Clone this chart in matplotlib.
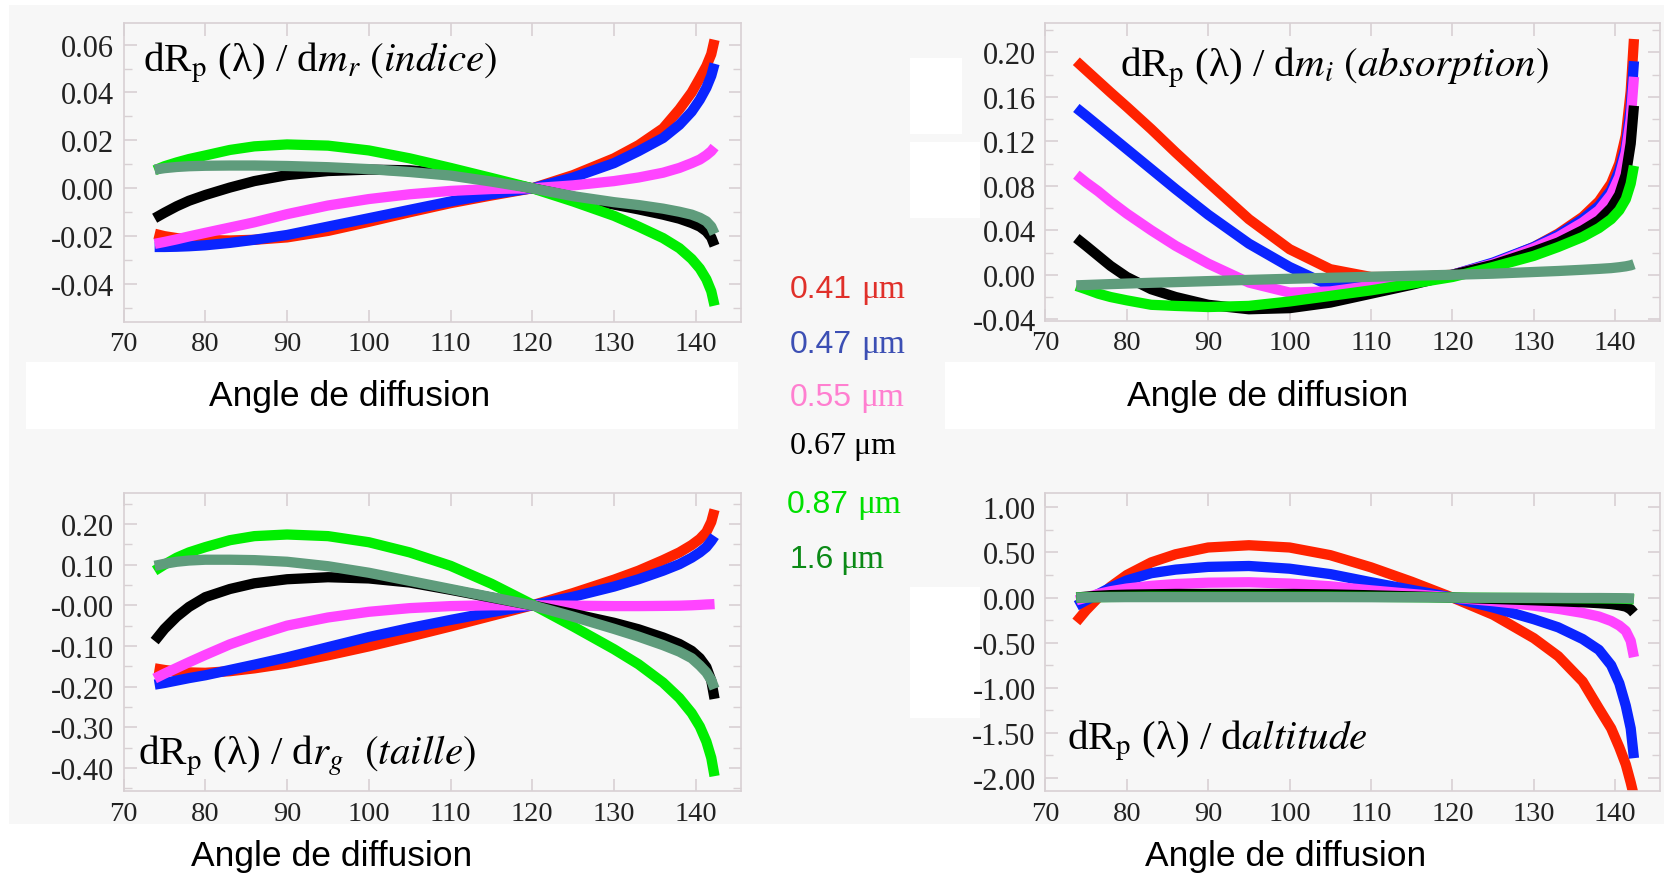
import matplotlib
matplotlib.use("Agg")
import matplotlib.pyplot as plt
from matplotlib.patches import Rectangle
from matplotlib.ticker import MultipleLocator

plt.rcParams['font.family'] = ['Liberation Serif', 'DejaVu Serif']
plt.rcParams['mathtext.fontset'] = 'stix'
plt.rcParams['axes.unicode_minus'] = False

# angle de diffusion (deg)
angle = [73.8, 75, 76.5, 78, 80, 83, 86, 90, 95, 100, 105, 110, 115, 120,
         125, 130, 133, 136, 138, 139.5, 140.5, 141.3, 141.9, 142.3]

# dRp / dm_r (indice)
mr_041 = [-0.019, -0.020, -0.0208, -0.0213, -0.0216, -0.0218, -0.0215, -0.0205, -0.0178, -0.014, -0.010, -0.0062, -0.003, 0.0,
          0.0055, 0.0125, 0.018, 0.025, 0.033, 0.040, 0.046, 0.051, 0.056, 0.062]
mr_047 = [-0.0245, -0.0245, -0.0244, -0.0242, -0.0238, -0.0228, -0.0215, -0.0195, -0.016, -0.0125, -0.009, -0.0055, -0.0025, 0.0,
          0.0045, 0.0105, 0.0155, 0.021, 0.0265, 0.032, 0.037, 0.042, 0.047, 0.052]
mr_055 = [-0.0232, -0.0224, -0.0213, -0.0201, -0.0186, -0.0164, -0.0142, -0.0108, -0.0072, -0.0045, -0.0025, -0.0011, -0.0003, 0.0,
          0.0012, 0.003, 0.0045, 0.0065, 0.0085, 0.0105, 0.012, 0.0138, 0.0155, 0.0172]
mr_067 = [-0.0125, -0.0102, -0.0075, -0.0052, -0.0028, 0.0003, 0.003, 0.0055, 0.0072, 0.0078, 0.0075, 0.006, 0.0035, 0.0,
          -0.0035, -0.0068, -0.0088, -0.011, -0.0127, -0.0145, -0.016, -0.018, -0.0205, -0.024]
mr_087 = [0.0075, 0.0092, 0.0108, 0.0122, 0.0137, 0.016, 0.0175, 0.0183, 0.0178, 0.0158, 0.0125, 0.0085, 0.0043, 0.0,
          -0.0055, -0.0115, -0.016, -0.0208, -0.025, -0.0295, -0.0335, -0.038, -0.043, -0.049]
mr_160 = [0.0078, 0.0084, 0.0089, 0.0092, 0.0094, 0.0095, 0.0095, 0.0093, 0.0088, 0.008, 0.0068, 0.0053, 0.0028, 0.0,
          -0.0033, -0.0058, -0.007, -0.0085, -0.0098, -0.011, -0.0123, -0.0138, -0.016, -0.019]

# dRp / dm_i (absorption)
mi_041 = [0.192, 0.184, 0.174, 0.164, 0.151, 0.131, 0.110, 0.083, 0.050, 0.023, 0.005, -0.002, -0.002, 0.0,
          0.010, 0.025, 0.037, 0.052, 0.066, 0.082, 0.100, 0.125, 0.165, 0.212]
mi_047 = [0.150, 0.143, 0.134, 0.125, 0.113, 0.095, 0.077, 0.054, 0.028, 0.007, -0.010, -0.010, -0.006, 0.0,
          0.011, 0.025, 0.036, 0.050, 0.062, 0.076, 0.094, 0.115, 0.150, 0.192]
mi_055 = [0.090, 0.083, 0.075, 0.066, 0.055, 0.040, 0.026, 0.010, -0.007, -0.016, -0.015, -0.010, -0.005, 0.0,
          0.010, 0.024, 0.034, 0.047, 0.058, 0.072, 0.088, 0.110, 0.140, 0.178]
mi_067 = [0.033, 0.026, 0.017, 0.008, -0.002, -0.013, -0.020, -0.027, -0.031, -0.030, -0.025, -0.017, -0.009, 0.0,
          0.009, 0.021, 0.029, 0.040, 0.049, 0.060, 0.072, 0.090, 0.118, 0.152]
mi_087 = [-0.010, -0.013, -0.017, -0.020, -0.023, -0.027, -0.028, -0.029, -0.028, -0.024, -0.019, -0.014, -0.008, -0.002,
          0.007, 0.017, 0.025, 0.034, 0.042, 0.050, 0.058, 0.068, 0.082, 0.098]
mi_160 = [-0.0095, -0.0092, -0.0088, -0.0084, -0.0079, -0.0072, -0.0066, -0.0057, -0.0046, -0.0036, -0.0027, -0.0018, -0.0009, 0.0,
          0.001, 0.0025, 0.0034, 0.0045, 0.0053, 0.006, 0.0068, 0.0076, 0.0085, 0.0095]

# dRp / dr_g (taille)
rg_041 = [-0.155, -0.159, -0.163, -0.165, -0.166, -0.162, -0.155, -0.143, -0.123, -0.101, -0.077, -0.052, -0.026, 0.0,
          0.030, 0.063, 0.085, 0.111, 0.130, 0.148, 0.163, 0.180, 0.205, 0.235]
rg_047 = [-0.195, -0.191, -0.185, -0.179, -0.172, -0.159, -0.146, -0.128, -0.103, -0.078, -0.056, -0.036, -0.017, 0.0,
          0.021, 0.046, 0.064, 0.085, 0.101, 0.117, 0.130, 0.143, 0.158, 0.170]
rg_055 = [-0.180, -0.168, -0.154, -0.140, -0.122, -0.096, -0.075, -0.050, -0.030, -0.016, -0.007, -0.002, 0.0, 0.0,
          -0.001, -0.002, -0.002, -0.0015, -0.001, 0.0, 0.001, 0.002, 0.0025, 0.003]
rg_067 = [-0.088, -0.058, -0.028, -0.004, 0.020, 0.040, 0.054, 0.064, 0.069, 0.066, 0.056, 0.038, 0.019, 0.0,
          -0.021, -0.043, -0.059, -0.079, -0.095, -0.112, -0.130, -0.152, -0.185, -0.230]
rg_087 = [0.085, 0.100, 0.117, 0.130, 0.143, 0.160, 0.170, 0.174, 0.170, 0.155, 0.130, 0.097, 0.053, 0.002,
          -0.052, -0.108, -0.145, -0.190, -0.228, -0.265, -0.298, -0.335, -0.375, -0.420]
rg_160 = [0.097, 0.102, 0.107, 0.110, 0.112, 0.112, 0.111, 0.107, 0.096, 0.080, 0.060, 0.040, 0.020, 0.0,
          -0.028, -0.058, -0.077, -0.098, -0.114, -0.130, -0.148, -0.165, -0.184, -0.205]

# dRp / d altitude
al_041 = [-0.27, -0.14, 0.0, 0.12, 0.25, 0.39, 0.48, 0.555, 0.58, 0.555, 0.47, 0.335, 0.175, 0.0,
          -0.19, -0.45, -0.65, -0.93, -1.23, -1.45, -1.66, -1.85, -2.05, -2.2]
al_047 = [-0.09, -0.03, 0.04, 0.11, 0.19, 0.27, 0.31, 0.34, 0.35, 0.32, 0.26, 0.17, 0.085, 0.0,
          -0.11, -0.24, -0.33, -0.46, -0.58, -0.75, -0.95, -1.20, -1.45, -1.78]
al_055 = [-0.03, 0.0, 0.04, 0.07, 0.10, 0.13, 0.15, 0.165, 0.17, 0.155, 0.125, 0.08, 0.04, 0.0,
          -0.04, -0.09, -0.125, -0.17, -0.21, -0.26, -0.31, -0.37, -0.48, -0.66]
al_067 = [0.0, 0.01, 0.02, 0.027, 0.032, 0.036, 0.04, 0.04, 0.04, 0.04, 0.035, 0.025, 0.013, 0.0,
          -0.015, -0.03, -0.04, -0.052, -0.062, -0.072, -0.085, -0.10, -0.13, -0.17]
al_087 = [0.0, 0.003, 0.005, 0.007, 0.008, 0.01, 0.01, 0.01, 0.01, 0.01, 0.01, 0.008, 0.005, 0.0,
          -0.003, -0.005, -0.006, -0.008, -0.009, -0.01, -0.012, -0.014, -0.017, -0.02]
al_160 = [0.0, 0.002, 0.003, 0.004, 0.005, 0.005, 0.005, 0.005, 0.005, 0.005, 0.005, 0.004, 0.002, 0.0,
          -0.002, -0.003, -0.004, -0.005, -0.005, -0.006, -0.007, -0.008, -0.009, -0.01]

wavelengths = ['0.41', '0.47', '0.55', '0.67', '0.87', '1.6']
line_colors = ['#ff2200', '#0a24ff', '#ff44ff', '#000000', '#00ee00', '#5f9c7c']
legend_colors = ['#e0302a', '#3c4fb4', '#ff7fd0', '#000000', '#00e000', '#0b8a16']

W, H = 1664, 879
BG = '#f7f7f7'
SPINE = '#d8d0d3'


def box(x0, y0, x1, y1):
    # pixel box (top-left origin) -> figure fraction
    return [x0 / W, 1 - y1 / H, (x1 - x0) / W, (y1 - y0) / H]


fig = plt.figure(figsize=(W / 100, H / 100), dpi=100, facecolor='white')

b = box(9, 6, W, 825)
fig.patches.append(Rectangle((b[0], b[1]), b[2], b[3], transform=fig.transFigure,
                             facecolor=BG, edgecolor='none', zorder=-2))
for r in [(26, 363, 738, 430), (945, 363, 1655, 430), (910, 59, 962, 135),
          (910, 143, 980, 219), (910, 588, 980, 719)]:
    b = box(*r)
    fig.patches.append(Rectangle((b[0], b[1]), b[2], b[3], transform=fig.transFigure,
                                 facecolor='white', edgecolor='none', zorder=-1))

panels = [
    (box(123.6, 24, 740.7, 322.7), [mr_041, mr_047, mr_055, mr_067, mr_087, mr_160],
     (-0.0557, 0.069), [-0.04, -0.02, 0.0, 0.02, 0.04, 0.06],
     ['-0.04', '-0.02', '0.00', '0.02', '0.04', '0.06'], 0.01),
    (box(1045.4, 24, 1660, 321.7), [mi_041, mi_047, mi_055, mi_067, mi_087, mi_160],
     (-0.0413, 0.2264), [-0.04, 0.0, 0.04, 0.08, 0.12, 0.16, 0.20],
     ['-0.04', '0.00', '0.04', '0.08', '0.12', '0.16', '0.20'], 0.02),
    (box(123.6, 494, 740.7, 792), [rg_041, rg_047, rg_055, rg_067, rg_087, rg_160],
     (-0.4565, 0.276), [-0.4, -0.3, -0.2, -0.1, 0.0, 0.1, 0.2],
     ['-0.40', '-0.30', '-0.20', '-0.10', '-0.00', '0.10', '0.20'], 0.05),
    (box(1045.4, 494, 1660, 792), [al_041, al_047, al_055, al_067, al_087, al_160],
     (-2.144, 1.159), [-2.0, -1.5, -1.0, -0.5, 0.0, 0.5, 1.0],
     ['-2.00', '-1.50', '-1.00', '-0.50', '0.00', '0.50', '1.00'], 0.25),
]

for rect, series, ylim, yt, ylab, minor in panels:
    ax = fig.add_axes(rect)
    ax.set_facecolor(BG)
    for ys, c in zip(series, line_colors):
        ax.plot(angle, ys, color=c, lw=7.4, solid_capstyle='butt', solid_joinstyle='round')
    ax.set_xlim(70, 145.5)
    ax.set_ylim(*ylim)
    ax.set_xticks([70, 80, 90, 100, 110, 120, 130, 140])
    ax.set_yticks(yt)
    ax.set_yticklabels(ylab)
    ax.yaxis.set_minor_locator(MultipleLocator(minor))
    for s in ax.spines.values():
        s.set_color(SPINE)
        s.set_linewidth(1.2)
    ax.tick_params(which='both', direction='in', top=True, right=True,
                   color=SPINE, labelcolor='#222222')
    ax.tick_params(which='major', length=9, width=1.2)
    ax.tick_params(which='minor', length=6, width=1.0)
    ax.tick_params(axis='x', pad=7, labelsize=20.5)
    ax.tick_params(axis='y', pad=7, labelsize=22)

title_kw = dict(fontsize=29.5, va='baseline', ha='left', color='black')
fig.text(143 / W, 1 - 72 / H, r'dR$_\mathrm{p}$ (λ) / d$m_r\ \mathit{(indice)}$', **title_kw)
fig.text(1120 / W, 1 - 77 / H, r'dR$_\mathrm{p}$ (λ) / d$m_i\ \mathit{(absorption)}$', **title_kw)
fig.text(138 / W, 1 - 765 / H, r'dR$_\mathrm{p}$ (λ) / d$r_g\ \ \mathit{(taille)}$', **title_kw)
fig.text(1067 / W, 1 - 750 / H, r'dR$_\mathrm{p}$ (λ) / d$\mathit{altitude}$', **title_kw)

for x, y in [(350, 397), (1268, 397), (332, 857), (1286, 857)]:
    fig.text(x / W, 1 - y / H, 'Angle de diffusion', family='Liberation Sans',
             fontsize=25.5, ha='center', va='center')

# legend of wavelengths in the middle
leg_y = [290, 345, 398, 447, 505, 560]
leg_x = [790, 790, 790, 790, 787, 790]
mu_x = [861, 861, 860, None, 857, 840]
for lab, c, x, y, mx in zip(wavelengths, legend_colors, leg_x, leg_y, mu_x):
    if mx is None:
        fig.text(x / W, 1 - y / H, lab + ' μm', fontsize=23, color=c, va='center', ha='left')
    else:
        fig.text(x / W, 1 - y / H, lab, family='Liberation Sans', fontsize=23,
                 color=c, va='center', ha='left')
        fig.text(mx / W, 1 - y / H, 'μm', fontsize=24, color=c, va='center', ha='left')

fig.savefig('out.png', dpi=100, facecolor=fig.get_facecolor())
